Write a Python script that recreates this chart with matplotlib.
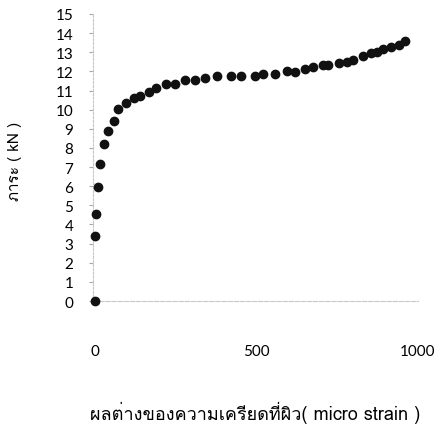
import matplotlib
matplotlib.use("Agg")
import matplotlib.pyplot as plt
from matplotlib import font_manager
from matplotlib.ft2font import FT2Font

# surface strain difference (micro strain) vs load (kN)
strain = [0, 0, 3, 10, 16, 29, 41, 60, 72, 97, 121, 140, 166, 190, 220, 247,
          278, 309, 341, 377, 421, 453, 494, 521, 558, 595, 618, 649, 674,
          706, 723, 755, 780, 798, 831, 855, 872, 891, 918, 941, 961]
load = [0.0, 3.41, 4.57, 5.95, 7.15, 8.23, 8.89, 9.39, 10.05, 10.37, 10.59,
        10.71, 10.90, 11.13, 11.34, 11.32, 11.57, 11.55, 11.67, 11.77, 11.77,
        11.77, 11.77, 11.88, 11.88, 12.00, 11.98, 12.12, 12.23, 12.33, 12.31,
        12.42, 12.50, 12.61, 12.83, 12.94, 13.04, 13.15, 13.27, 13.39, 13.60]

yticks = list(range(0, 16))
xticks = [0, 500, 1000]
xlabel = "ผลต่างของความเครียดที่ผิว( micro strain )"
ylabel = "ภาระ ( kN )"


def thai_family():
    # first installed font that actually carries Thai glyphs
    for f in font_manager.fontManager.ttflist:
        try:
            cmap = FT2Font(f.fname).get_charmap()
        except Exception:
            continue
        if ord("ก") in cmap and ord("A") in cmap:
            return f.name
    return "DejaVu Sans"


thai = thai_family()
num_font = "Lato"

fig = plt.figure(figsize=(4.36, 4.31), dpi=100)
ax = fig.add_axes([0.2126, 0.2993, 0.746, 0.6659])

ax.plot(strain, load, "o", color="#111111", ms=6, clip_on=False, zorder=3)

ax.set_xlim(-7, 1000)
ax.set_ylim(0, 15)

for s in ["top", "right"]:
    ax.spines[s].set_visible(False)
ax.spines["left"].set_color("#c8c8c8")
ax.spines["left"].set_linestyle((0, (2, 1.5)))
ax.spines["left"].set_linewidth(0.8)
ax.spines["bottom"].set_position(("data", 0))
ax.spines["bottom"].set_color("#c8c8c8")
ax.spines["bottom"].set_linestyle((0, (4, 1.5)))
ax.spines["bottom"].set_linewidth(0.8)

ax.set_yticks(yticks)
ax.set_yticklabels([str(v) for v in yticks], fontfamily=num_font, fontsize=11)
ax.tick_params(axis="y", length=3, width=0.8, color="#a8a8a8", pad=11)

ax.set_xticks(xticks)
ax.set_xticklabels([str(v) for v in xticks], fontfamily=num_font, fontsize=11)
ax.tick_params(axis="x", length=0, pad=31)
ax.set_xticks([500], minor=True)
ax.tick_params(axis="x", which="minor", length=4, width=0.8, color="#a8a8a8")

ax.set_xlabel(xlabel, family=[thai, "DejaVu Sans"], fontsize=13, labelpad=31)
ax.set_ylabel(ylabel, family=[thai, "DejaVu Sans"], fontsize=11, va="center")
ax.yaxis.set_label_coords(-0.238, 0.49)

fig.savefig("out.png", dpi=100)
